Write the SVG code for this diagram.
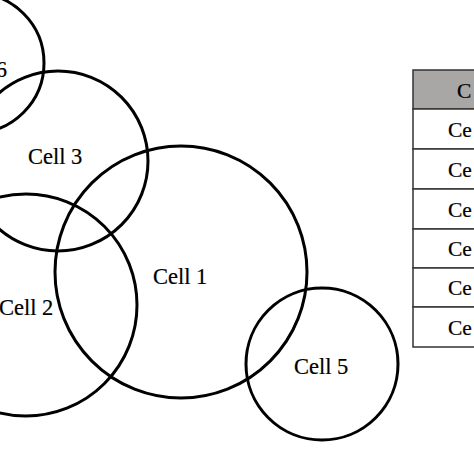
<svg xmlns="http://www.w3.org/2000/svg" width="474" height="474" viewBox="0 0 474 474">
<style>
.cell{fill:none;stroke:#000;stroke-width:3}
.lbl{font-family:"Liberation Serif","Times New Roman",serif;font-size:22.5px;fill:#000;stroke:#000;stroke-width:0.2}
.tb{font-family:"Liberation Serif","Times New Roman",serif;font-size:21.5px;fill:#000;stroke:#000;stroke-width:0.2}
.row{fill:#fff;stroke:#333;stroke-width:1.5}
.head{fill:#a9a7a6;stroke:#333;stroke-width:1.5}
</style>
<rect width="474" height="474" fill="#fff"/>
<g id="cell6"><circle class="cell" cx="-26" cy="63" r="70"/><text class="lbl" x="7" y="77" text-anchor="end">Cell 6</text></g>
<g id="cell3"><circle class="cell" cx="58" cy="161" r="90"/><text class="lbl" x="28" y="164">Cell 3</text></g>
<g id="cell2"><circle class="cell" cx="26" cy="305" r="111"/><text class="lbl" x="-1" y="315">Cell 2</text></g>
<g id="cell1"><circle class="cell" cx="181" cy="272" r="126"/><text class="lbl" x="153" y="284">Cell 1</text></g>
<g id="cell5"><circle class="cell" cx="322" cy="364" r="76"/><text class="lbl" x="294" y="374">Cell 5</text></g>
<g id="table">
<rect class="head" x="413" y="70" width="80" height="39"/>
<rect class="row" x="413" y="109" width="80" height="40"/>
<rect class="row" x="413" y="149" width="80" height="40"/>
<rect class="row" x="413" y="189" width="80" height="40"/>
<rect class="row" x="413" y="229" width="80" height="39"/>
<rect class="row" x="413" y="268" width="80" height="39"/>
<rect class="row" x="413" y="307" width="80" height="40"/>
<text class="tb" x="457" y="98">C</text>
<text class="tb" x="448" y="137">Ce</text>
<text class="tb" x="448" y="177">Ce</text>
<text class="tb" x="448" y="217">Ce</text>
<text class="tb" x="448" y="256">Ce</text>
<text class="tb" x="448" y="295">Ce</text>
<text class="tb" x="448" y="335">Ce</text>
</g>
</svg>
